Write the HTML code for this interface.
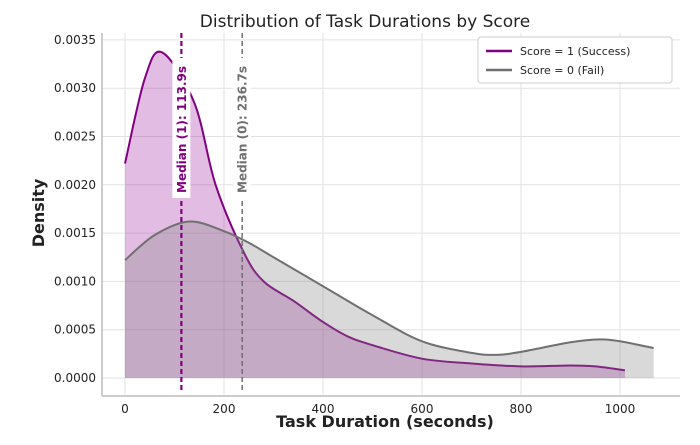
<!DOCTYPE html>
<html><head><meta charset="utf-8"><style>
body{margin:0;background:#fff;}
svg{font-family:"DejaVu Sans","Liberation Sans",sans-serif;}
</style></head><body>
<svg width="700" height="440" viewBox="0 0 700 440">
<g id="grid"></g>
<g id="marks"></g>
<g id="axes"></g>
<text x="365" y="27" font-size="17" text-anchor="middle" fill="#222">Distribution of Task Durations by Score</text>
<text x="385" y="427" font-size="16" font-weight="bold" text-anchor="middle" fill="#222">Task Duration (seconds)</text>
<text transform="translate(44,213) rotate(-90)" font-size="16" font-weight="bold" text-anchor="middle" fill="#222">Density</text>
<g>
<rect x="478" y="37" width="194" height="46" fill="#fff" stroke="#ccc" rx="3"/>
<line x1="486" y1="51" x2="512" y2="51" stroke="#800080" stroke-width="2.5"/>
<text x="520" y="55" font-size="11" fill="#222">Score = 1 (Success)</text>
<line x1="486" y1="70" x2="512" y2="70" stroke="#707070" stroke-width="2.5"/>
<text x="520" y="74" font-size="11" fill="#222">Score = 0 (Fail)</text>
</g>
</svg>
<script>
const xs1=[0,40,75,140,183,240,280,340,400,450,500,600,700,800,900,950,1010];
const ys1=[0.00222,0.0031,0.00337,0.00285,0.0020,0.0013,0.001,0.0008,0.00058,0.00043,0.00034,0.0002,0.00015,0.00012,0.00013,0.00012,0.00008];
const xs0=[0,60,130,200,250,300,400,500,600,700,750,800,900,960,1000,1068];
const ys0=[0.00122,0.00148,0.00162,0.00152,0.0014,0.00125,0.00095,0.00065,0.00038,0.00026,0.00024,0.00027,0.00037,0.0004,0.00038,0.00031];
const xTicks=[0,200,400,600,800,1000];
const yTicks=[0,0.0005,0.001,0.0015,0.002,0.0025,0.003,0.0035];
const yTickLabels=["0.0000","0.0005","0.0010","0.0015","0.0020","0.0025","0.0030","0.0035"];
const median1=113.9, median0=236.7;
const L=102,R=680,T=33,B=396;
const X=v=>125+v*0.495;
const Y=v=>378-v*96600;
const NS="http://www.w3.org/2000/svg";
function mk(p,tag,a){const e=document.createElementNS(NS,tag);for(const k in a)e.setAttribute(k,a[k]);p.appendChild(e);return e;}
const grid=document.getElementById('grid'),marks=document.getElementById('marks'),axes=document.getElementById('axes');
xTicks.forEach(t=>{const g=mk(grid,'line',{x1:X(t),x2:X(t),y1:T,y2:B,stroke:'#e2e2e2'});


const l=mk(axes,'text',{x:X(t),y:B+17,'font-size':12,'text-anchor':'middle',fill:'#222'});l.textContent=t;

});
yTicks.forEach((t,i)=>{const g=mk(grid,'line',{x1:L,x2:R,y1:Y(t),y2:Y(t),stroke:'#e2e2e2'});


const l=mk(axes,'text',{x:L-6,y:Y(t)+4,'font-size':12,'text-anchor':'end',fill:'#222'});l.textContent=yTickLabels[i];

});
const sp1=mk(axes,'line',{x1:L,x2:L,y1:T,y2:B,stroke:'#ccc','stroke-width':2});


const sp2=mk(axes,'line',{x1:L,x2:R,y1:B,y2:B,stroke:'#ccc','stroke-width':2});


function curve(xs,ys){const P=xs.map((x,i)=>[X(x),Y(ys[i])]);let d='M'+P[0][0]+','+P[0][1];
for(let i=0;i<P.length-1;i++){const p0=P[Math.max(0,i-1)],p1=P[i],p2=P[i+1],p3=P[Math.min(P.length-1,i+2)];
d+=` C${p1[0]+(p2[0]-p0[0])/6},${p1[1]+(p2[1]-p0[1])/6} ${p2[0]-(p3[0]-p1[0])/6},${p2[1]-(p3[1]-p1[1])/6} ${p2[0]},${p2[1]}`;}return d;}
function series(xs,ys,col,lc,name){const c=curve(xs,ys);
const f=mk(marks,'path',{d:c+` L${X(xs[xs.length-1])},${Y(0)} L${X(xs[0])},${Y(0)} Z`,fill:col,'fill-opacity':0.3});


const l=mk(marks,'path',{d:c,fill:'none',stroke:lc,'stroke-width':2});

}
series(xs1,ys1,'#a020a0','#800080','success-kde');
series(xs0,ys0,'#808080','#707070','fail-kde');
function med(v,col,w,txt,name){const m=mk(marks,'line',{x1:X(v),x2:X(v),y1:T,y2:B-4,stroke:col,'stroke-width':w,'stroke-dasharray':'5,3'});


const r=mk(marks,'rect',{x:X(v)-9,y:58,width:18,height:140,fill:'#fff'});


const t=mk(marks,'text',{transform:`translate(${X(v)+4.5},193) rotate(-90)`,'font-size':12,fill:col,'font-weight':'bold'});t.textContent=txt;

}
med(median1,'#800080',2.2,'Median (1): '+median1+'s','median-success');
med(median0,'#707070',1.5,'Median (0): '+median0+'s','median-fail');
</script>
</body></html>
